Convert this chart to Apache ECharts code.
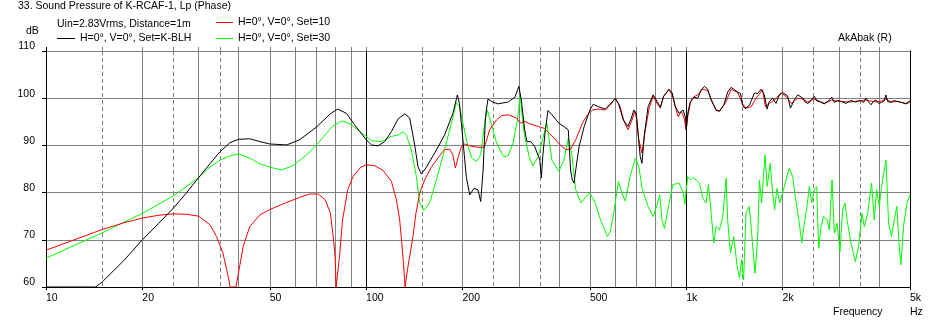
<!DOCTYPE html>
<html><head><meta charset="utf-8">
<script src="https://cdn.jsdelivr.net/npm/echarts@6/dist/echarts.min.js"></script>
<style>html,body{margin:0;padding:0;background:#fff}#c{width:937px;height:324px}</style>
</head><body><div id="c"></div>
<script>
// ---- data: [frequency Hz, level dB] ----
const blackPts = [[10,60],[14.3,60],[15,61.1],[17.5,65.6],[20,70],[22.5,73.5],[25,76.7],[27.5,80],[30,83.2],[32.5,86.1],[35,88.7],[37.6,90.6],[40,91.3],[43.3,91.4],[46.6,90.8],[50,90.3],[56.5,90.1],[62,91.2],[70,93.9],[77.3,96.7],[81.5,97.7],[86.8,96.8],[92,94.4],[100,91.2],[103.9,90.1],[108.9,89.9],[114.3,90.8],[119.9,92.9],[125.8,95.6],[132,96.7],[136.8,95.8],[141.8,90.1],[145.2,85.5],[148.8,83.9],[154.3,85.4],[163.8,88.4],[175.8,92.2],[186.7,96.8],[192.8,100.7],[195.7,98.9],[200.6,91.2],[205.5,83.4],[210.6,79.5],[217.2,80.9],[223.5,80.6],[228,78.1],[232,84.8],[236,96.1],[240.2,99.8],[248,99.2],[258,98.8],[277.8,99.2],[291.5,100.2],[300,102.5],[305.4,99.6],[312.8,93.3],[318,90.8],[327,90.8],[336,89.8],[348.8,86.9],[352.6,83.1],[356.4,87.8],[362,92.6],[369.8,97.4],[380.7,96.5],[400,94.7],[414.6,94.0],[428,93.3],[435.3,84.8],[440.6,82.7],[446,82.0],[451.6,84.8],[462.8,89.8],[480,94.0],[500,97.5],[512,98.7],[531.4,98.2],[558.6,97.7],[579.6,98.8],[600,99.9],[614,98.9],[636.3,95.4],[657.6,94.0],[674,95.8],[685.8,97.5],[698.5,96.8],[707,92.6],[718,87.7],[727,86.2],[741,92.6],[760,98.2],[788,100.7],[811,99.3],[830,98.1],[850,100.4],[883,101.9],[904,101.1],[924,98.2],[950,96.8],[978,97.5],[995,95.8],[1000,93.3],[1011,96.8],[1030,99.3],[1055,100.2],[1086,100],[1113,101.8],[1140,102.5],[1167,101.9],[1196,99.6],[1240,97.5],[1270,97.3],[1310,98.5],[1347,101.3],[1381,102.3],[1414,101.8],[1448,101.3],[1477,101.0],[1500,98.5],[1527,97.8],[1575,98.5],[1633,101.1],[1672,101.0],[1713,101.9],[1754,100.7],[1788,97.7],[1817,99.3],[1862,100],[1907,98.9],[1953,100.7],[2000,101.2],[2073,100.5],[2116,97.9],[2178,99.7],[2230,100.7],[2258,100.5],[2314,100],[2350,99.2],[2396,98.9],[2454,99.5],[2512,100.4],[2560,99.4],[2604,99.3],[2697,98.8],[2780,99.4],[2847,100.2],[2901,99.1],[2970,99.5],[3049,99.3],[3155,98.9],[3271,99.5],[3380,99.2],[3500,99.5],[3580,99.1],[3643,100],[3700,99.3],[3776,98.6],[3850,99.4],[3914,99.6],[3990,98.9],[4075,99.1],[4150,99.4],[4203,100.7],[4260,99.3],[4360,99.1],[4450,99.5],[4572,99.3],[4700,99.1],[4850,98.8],[4950,99.0],[5000,99.5]];

const redPts = [[10,67.8],[12.5,70.2],[15,72.2],[17.5,73.6],[20,74.6],[22.5,75.2],[25,75.5],[27.5,75.4],[30,75.0],[32.5,73.2],[34.1,70.7],[35.7,67.2],[37.1,62.2],[37.6,60],[39.2,60],[40.1,63.7],[41.3,68.6],[43.3,72.8],[46.6,75.3],[50,76.4],[55,77.6],[62,79.0],[66.6,79.7],[70.8,79.7],[74.5,78.5],[77.3,75.7],[78.7,71.4],[80,66.5],[80.6,60],[81.4,60],[82.6,66.5],[84.4,74.2],[87.6,80.6],[91,83.4],[96.3,85.4],[100,85.9],[106.4,85.7],[112.9,84.7],[119.9,82.4],[124.3,78.5],[127.3,74.2],[129,70],[131.5,63],[132.3,60],[133.5,60],[135.1,64.3],[140.1,70.7],[143,75.5],[147,79.9],[152.3,82.7],[159.9,85.4],[169.6,87.8],[175.8,89.1],[182.4,89.2],[186.7,88.0],[190,85.2],[192.8,86.9],[198.5,89.8],[203.4,90.3],[213,89.8],[223.5,89.6],[233.5,89.6],[237.2,90.8],[243.1,93.3],[255.6,95.4],[265,96.3],[277.8,96.5],[295,95.8],[303.7,94.7],[312.8,95.1],[324,94.6],[345,94.0],[360.3,93.6],[372.5,92.6],[387,91.5],[403.4,90.1],[420,89.1],[435.3,89.2],[451.6,91.2],[474,94.7],[491.7,96.5],[510,97.5],[531.4,97.7],[558.6,97.5],[580,98.6],[600,100],[622,98.2],[636.3,95.4],[657.6,93.3],[677,95.4],[692,97.2],[700,95.4],[711,91.2],[727,88.4],[745,93.3],[766,97.9],[788,100.4],[811,98.9],[830,97.9],[850,100.4],[883,101.8],[904,100.7],[943,96.1],[965,97.2],[985,95.8],[1000,93.3],[1011,96.1],[1030,99.0],[1055,100.3],[1086,100.7],[1126,101.9],[1167,101.6],[1196,99.8],[1240,97.4],[1270,97.2],[1332,99.3],[1381,101.9],[1448,101.2],[1500,98.8],[1537,97.9],[1595,98.2],[1652,100],[1733,101.8],[1767,98.2],[1817,98.9],[1885,99.6],[1976,101.1],[2049,100.4],[2130,98.9],[2230,100],[2258,100.4],[2314,99.8],[2396,99.2],[2500,99.8],[2604,99.4],[2697,98.9],[2847,99.6],[3049,99.3],[3271,99.2],[3500,99.5],[3643,99.6],[3914,99.2],[4075,99.4],[4203,99.8],[4360,99.2],[4572,99.3],[4850,98.9],[5000,99.4]];

const greenPts = [[10,66.1],[15,71.5],[20,75.6],[25,79.3],[30,83.2],[32.5,85.4],[35,86.9],[37.6,87.8],[40,88.2],[43.3,87.3],[46.6,86.1],[50,85.4],[54.3,84.8],[59.1,85.7],[65.2,88.0],[70,90.1],[78.7,94.1],[84.2,95.2],[90,94.4],[96.4,92.7],[100,91.9],[104,91.0],[111.6,90.8],[119.9,91.9],[125.8,92.2],[130.4,92.9],[133.6,92.2],[138.4,89.1],[143.5,83.4],[147,77.8],[151.6,76.2],[157.9,77.8],[165.8,82.7],[175.8,89.1],[184.6,94.7],[191.4,99.1],[195.7,98.2],[200.6,94.7],[208,89.8],[214,87.3],[221,86.6],[228,88.0],[234.6,94.7],[239,97.5],[245.9,94.7],[255.6,90.5],[268.6,87.6],[277.8,87.8],[287.7,90.5],[297,95.4],[303,100.7],[307.3,96.1],[312.8,91.9],[324,87.3],[331.7,85.7],[345,87.6],[356.4,91.5],[367,94.7],[372.5,91.5],[380.7,86.8],[400,84.5],[414.6,86.8],[428,91.5],[438.9,88.2],[451.6,80.6],[469,77.8],[486.9,79.2],[500,79.9],[519.8,77.8],[539.7,74.2],[566.9,70.7],[579.6,71.8],[593.3,75.6],[614,82.4],[629,79.9],[645,78.2],[667.5,83.4],[693.4,87.3],[711,85.5],[729.3,80.6],[760,77.1],[788,74.9],[808,77.1],[826.5,79.5],[840,74.2],[855,72.4],[880,77.1],[908,81.7],[950,82.0],[979,79.9],[990,77.5],[1000,80.6],[1011,83.4],[1030,82.7],[1048,83.1],[1074,82.7],[1100,82.0],[1126,78.8],[1154,77.8],[1173,81.7],[1196,75.7],[1219,69.3],[1240,72.8],[1270,72.1],[1300,74.9],[1332,83.1],[1347,74.2],[1374,67.2],[1407,70.7],[1442,64.4],[1466,61.9],[1490,65.8],[1511,61.5],[1537,75.7],[1575,77.1],[1613,68.6],[1641,62.9],[1672,70.7],[1693,82.7],[1720,77.8],[1762,88.0],[1790,81.3],[1830,86.2],[1862,79.9],[1889,76.4],[1920,80.9],[1959,77.8],[2000,79.9],[2050,82.7],[2099,85.2],[2150,83.4],[2190,79.2],[2218,79.5],[2256,73.5],[2294,69.3],[2339,73.5],[2384,77.1],[2424,81.3],[2465,77.8],[2512,80.6],[2555,81.3],[2592,68.2],[2636,72.8],[2687,74.9],[2754,74.2],[2799,72.1],[2854,82.7],[2901,71.4],[2958,73.5],[3022,67.5],[3080,76.4],[3133,77.8],[3192,73.5],[3271,69.3],[3374,65.4],[3455,68.6],[3540,75.6],[3600,72.8],[3686,75.6],[3793,82.0],[3867,74.2],[3932,80.6],[4009,77.1],[4076,81.3],[4207,86.9],[4286,73.5],[4378,70.7],[4464,74.2],[4550,77.1],[4627,68.6],[4684,64.7],[4773,72.8],[4891,77.8],[5000,79.5]];

const seriesNames = ['H=0°, V=0°, Set=K-BLH', 'H=0°, V=0°, Set=10', 'H=0°, V=0°, Set=30'];
const xLabelValues = [10, 20, 50, 100, 200, 500, 1000, 2000, 5000];
const solidGrid = [20, 30, 40, 50, 60, 70, 80, 90, 200, 300, 400, 500, 600, 700, 800, 900, 2000, 3000, 4000];
const dashedGrid = [15, 25, 35, 150, 250, 350, 1500, 2500, 3500];
const darkGrid = [100, 1000];
const titleText = '33. Sound Pressure of K-RCAF-1, Lp (Phase)';
const infoText = 'Uin=2.83Vrms, Distance=1m';

// ---- chart ----
const FONT = '"Liberation Sans", Arial, sans-serif';
const FS = 10.5;
const chart = echarts.init(document.getElementById('c'), null, {renderer: 'canvas'});
const fmtHz = v => v >= 1000 ? (v / 1000) + 'k' : String(v);
const baseX = {type: 'log', logBase: 10, min: 10, max: 5000, gridIndex: 0};
const off = {show: false};
const gridX = (vals, ls) => Object.assign({}, baseX, {
  position: 'bottom', axisLine: off, axisLabel: off,
  axisTick: {show: false, customValues: vals},
  splitLine: {show: true, lineStyle: ls}, minorSplitLine: off
});
const topTicks = (vals, color) => Object.assign({}, baseX, {
  position: 'top', axisLine: off, axisLabel: off, splitLine: off,
  axisTick: {show: true, inside: false, length: 4, customValues: vals, lineStyle: {color}}
});
const lineSeries = (name, pts, color, z) => ({
  name, type: 'line', data: pts, xAxisIndex: 0, yAxisIndex: 0, symbol: 'none', showSymbol: false,
  lineStyle: {color, width: 1}, itemStyle: {color}, z, clip: true, silent: true
});
const legendFor = (name, left, top, w) => ({
  data: [name], left, top, padding: 0, itemWidth: w, itemHeight: 1, icon: 'rect',
  textStyle: {color: '#000', fontSize: FS, fontFamily: FONT}, selectedMode: false
});
const txt = (text, x, y) => ({
  type: 'text', x, y, silent: true,
  style: {text, fill: '#000', font: FS + 'px ' + FONT, align: 'left', verticalAlign: 'middle'}
});

chart.setOption({
  animation: false,
  backgroundColor: '#fff',
  grid: {left: 46, top: 51, width: 864, height: 236, containLabel: false, outerBoundsMode: 'none'},
  xAxis: [
    Object.assign({}, baseX, {
      position: 'bottom',
      axisLine: {show: true, onZero: false, lineStyle: {color: '#000', width: 1}},
      axisTick: {show: true, customValues: xLabelValues, length: 3, lineStyle: {color: '#000'}},
      axisLabel: {show: true, customValues: xLabelValues, formatter: fmtHz, align: 'left', margin: 6,
        color: '#000', fontSize: FS, fontFamily: FONT, hideOverlap: false},
      splitLine: off, minorTick: off, minorSplitLine: off
    }),
    gridX(solidGrid, {color: '#808080', width: 1, type: 'solid'}),
    gridX(dashedGrid, {color: '#808080', width: 1, type: [4, 3]}),
    gridX(darkGrid, {color: '#000', width: 1, type: 'solid'}),
    topTicks(solidGrid.concat(dashedGrid, darkGrid), '#808080'),
    topTicks([10], '#000')
  ],
  yAxis: [
    {type: 'value', min: 60, max: 110, interval: 10, position: 'left',
      axisLine: {show: true, onZero: false, lineStyle: {color: '#000', width: 1}},
      axisTick: {show: true, length: 4, lineStyle: {color: '#000'}},
      axisLabel: {color: '#000', fontSize: FS, fontFamily: FONT, margin: 11, verticalAlign: 'bottom', lineHeight: 9},
      splitLine: {show: true, lineStyle: {color: '#808080', width: 1}}},
    {type: 'value', min: 60, max: 110, interval: 10, position: 'right',
      axisLine: {show: true, onZero: false, lineStyle: {color: '#000', width: 1}},
      axisTick: off, axisLabel: off, splitLine: off}
  ],
  legend: [
    legendFor(seriesNames[0], 57, 33, 18),
    legendFor(seriesNames[1], 216, 17, 17),
    legendFor(seriesNames[2], 216, 33, 17)
  ],
  graphic: [
    txt(titleText, 18, 6),
    txt(infoText, 57, 24),
    txt('dB', 26, 31),
    txt('AkAbak (R)', 838, 38),
    txt('Frequency', 833, 312),
    txt('Hz', 910, 312)
  ],
  series: [
    lineSeries(seriesNames[2], greenPts, '#00ff00', 3),
    lineSeries(seriesNames[1], redPts, '#ff0000', 4),
    lineSeries(seriesNames[0], blackPts, '#000000', 5)
  ]
});
</script>
</body></html>
